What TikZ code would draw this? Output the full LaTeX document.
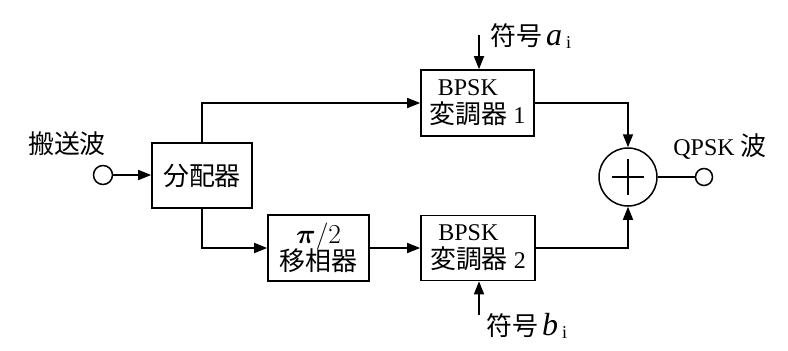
\documentclass[tikz,border=0pt]{standalone}
\usepackage{fontspec}
\usepackage{bm}
\setmainfont{Liberation Serif}
\newfontfamily\jp[Scale=1.08]{Noto Sans CJK JP}
\usetikzlibrary{arrows.meta}
\begin{document}
\begin{tikzpicture}[x=1pt,y=-1pt,
  every node/.style={font=\fontsize{24}{30}\selectfont},
  blk/.style={draw,line width=1.6pt,align=center,inner sep=0pt},
  term/.style={circle,draw,line width=1.5pt,inner sep=0pt},
  wire/.style={line width=1.6pt},
  arr/.style={wire,-{Triangle[length=13pt,width=10pt]}},
  lbl/.style={inner sep=0pt}]
\useasboundingbox (0,0) rectangle (788,351);
\node[term,minimum size=19pt] (in) at (103,175) {};
\node[blk,minimum width=100pt,minimum height=65pt] (dist) at (202,175.5) {\jp 分配器};
\node[blk,minimum width=101pt,minimum height=66pt] (phase) at (318.5,248) {\scalebox{1.1}{$\bm{\pi}/2$}\\[-3pt] {\jp 移相器}};
\node[blk,minimum width=113pt,minimum height=66pt] (b1) at (477.5,103) {BPSK\hspace*{0.8em}\\[-2pt] {\jp 変調器} 1};
\node[blk,minimum width=114pt,minimum height=65pt] (b2) at (478,248) {BPSK\hspace*{0.8em}\\[-2pt] {\jp 変調器} 2};
\node[term,minimum size=58pt] (add) at (628,177) {};
\node[term,minimum size=17pt] (out) at (704,177) {};
\coordinate (ain) at (479,35);
\coordinate (bin) at (479,315);
\node[lbl] (lin) at (67,144) {\jp 搬送波};
\node[lbl] (lout) at (720,147) {QPSK {\jp 波}};
\node[lbl,anchor=west] (la) at (490,36) {{\jp 符号}\,{\fontsize{32}{32}\selectfont\itshape a}\,{\fontsize{18}{20}\selectfont\raisebox{-3pt}{i}}};
\node[lbl,anchor=west] (lb) at (486,326) {{\jp 符号}\,{\fontsize{32}{32}\selectfont\itshape b}\,{\fontsize{18}{20}\selectfont\raisebox{-3pt}{i}}};
\draw[arr] (in.east) -- (in.east -| dist.west);
\draw[arr] (dist.north) |- (b1.west);
\draw[arr] (dist.south) |- (phase.west);
\draw[arr] (phase.east) -- (phase.east -| b2.west);
\draw[arr] (b1.east) -| (add.north);
\draw[arr] (b2.east) -| (add.south);
\draw[wire] (add.east) -- (out.west);
\draw[arr] (ain) -- (ain |- b1.north);
\draw[arr] (bin) -- (bin |- b2.south);
\draw[wire] ([xshift=-16pt]add.center) -- ([xshift=16pt]add.center);
\draw[wire] ([yshift=-18pt]add.center) -- ([yshift=18pt]add.center);
\end{tikzpicture}
\end{document}
